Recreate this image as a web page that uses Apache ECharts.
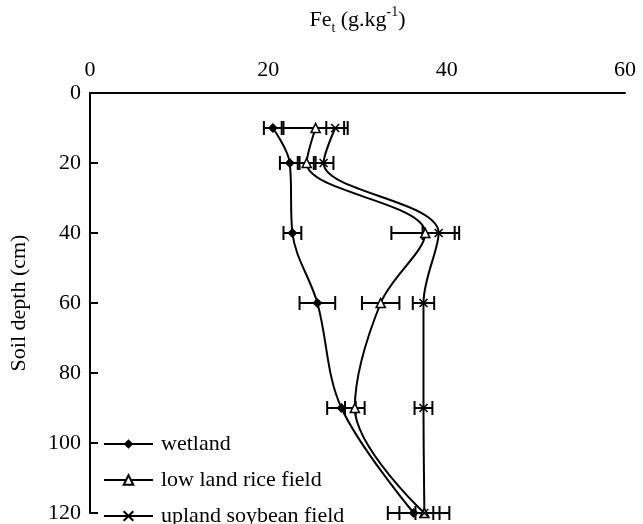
<!DOCTYPE html>
<html>
<head>
<meta charset="utf-8">
<script src="https://cdn.jsdelivr.net/npm/echarts@6/dist/echarts.min.js"></script>
<style>
html,body{margin:0;padding:0;background:#fff;}
#chart{width:643px;height:524px;}
</style>
</head>
<body>
<div id="chart"></div>
<script>
// ---- data ----
var depths = [10, 20, 40, 60, 90, 120];
var wetland = [20.5, 22.4, 22.7, 25.5, 28.2, 36.3];
var wetlandErr = [1.0, 1.1, 1.0, 2.0, 1.6, 2.9];
var lowland = [25.3, 24.3, 37.6, 32.6, 29.7, 37.5];
var lowlandErr = [3.6, 1.0, 3.8, 2.1, 1.1, 2.8];
var upland = [27.5, 26.2, 39.1, 37.4, 37.4, 37.5];
var uplandErr = [1.0, 1.1, 1.8, 1.2, 1.0, 1.0];
var seriesNames = ['wetland', 'low land rice field', 'upland soybean field'];
var xTicks = [0, 20, 40, 60];
var yTicks = [0, 20, 40, 60, 80, 100, 120];

var FONT = 'Liberation Serif';
var chart = echarts.init(document.getElementById('chart'), null, {renderer: 'canvas'});

function pts(vals) { return vals.map(function (v, i) { return [v, depths[i]]; }); }
function errData(vals, errs) { return vals.map(function (v, i) { return [v, errs[i], depths[i]]; }); }

function errRender(params, api) {
  var x = api.value(0), e = api.value(1), y = api.value(2);
  var p1 = api.coord([x - e, y]);
  var p2 = api.coord([x + e, y]);
  var h = 7;
  var st = {stroke: '#000', lineWidth: 2};
  return {
    type: 'group',
    children: [
      {type: 'line', shape: {x1: p1[0], y1: p1[1], x2: p2[0], y2: p2[1]}, style: st},
      {type: 'line', shape: {x1: p1[0], y1: p1[1] - h, x2: p1[0], y2: p1[1] + h}, style: st},
      {type: 'line', shape: {x1: p2[0], y1: p2[1] - h, x2: p2[0], y2: p2[1] + h}, style: st}
    ]
  };
}

var lineStyle = {color: '#000', width: 2};
var symbols = ['diamond', 'triangle', 'path://M0,0L10,10M10,0L0,10'];
var symbolSizes = [10, 9, 8];
var fills = ['#000', '#fff', '#000'];
var valsArr = [wetland, lowland, upland];
var errsArr = [wetlandErr, lowlandErr, uplandErr];

var series = [];
for (var k = 0; k < 3; k++) {
  series.push({
    type: 'custom',
    name: seriesNames[k] + ' err',
    renderItem: errRender,
    data: errData(valsArr[k], errsArr[k]),
    encode: {x: 0, y: 2},
    z: 1,
    silent: true
  });
}
for (var j = 0; j < 3; j++) {
  series.push({
    type: 'line',
    name: seriesNames[j],
    data: pts(valsArr[j]),
    smooth: 0.35,
    symbol: symbols[j],
    symbolSize: symbolSizes[j],
    showAllSymbol: true,
    lineStyle: lineStyle,
    itemStyle: {color: fills[j], borderColor: '#000', borderWidth: j === 0 ? 0 : 1.6},
    z: 3,
    animation: false
  });
}

var legendTops = [433, 469, 505];
var legends = seriesNames.map(function (n, i) {
  return {
    data: [n],
    orient: 'horizontal',
    left: 103,
    top: legendTops[i],
    padding: 0,
    itemWidth: 49,
    itemHeight: 12,
    textStyle: {fontFamily: FONT, fontSize: 22, color: '#000', padding: [0, 0, 0, 3]}
  };
});

var option = {
  animation: false,
  backgroundColor: '#fff',
  grid: {left: 84, right: 18, top: 83, bottom: 7, containLabel: false},
  legend: legends,
  xAxis: {
    type: 'value',
    position: 'top',
    min: 0, max: 60, interval: 20,
    name: '{a|Fe}{sub|t}{a| (g.kg}{sup|-1}{a|)}',
    nameLocation: 'middle',
    nameGap: 58,
    nameTextStyle: {
      rich: {
        a: {fontFamily: FONT, fontSize: 22, color: '#000', lineHeight: 30},
        sub: {fontFamily: FONT, fontSize: 14, color: '#000', lineHeight: 30, verticalAlign: 'bottom'},
        sup: {fontFamily: FONT, fontSize: 14, color: '#000', lineHeight: 30, verticalAlign: 'top'}
      }
    },
    axisLine: {show: true, lineStyle: {color: '#000', width: 2}},
    axisTick: {show: false},
    axisLabel: {fontFamily: FONT, fontSize: 22, color: '#000', margin: 12,
      customValues: xTicks},
    splitLine: {show: false}
  },
  yAxis: {
    type: 'value',
    inverse: true,
    min: 0, max: 120, interval: 20,
    name: 'Soil depth (cm)',
    nameLocation: 'middle',
    nameGap: 60,
    nameRotate: 90,
    nameTextStyle: {fontFamily: FONT, fontSize: 22, color: '#000'},
    axisLine: {show: true, lineStyle: {color: '#000', width: 2}},
    axisTick: {show: true, inside: true, length: 8, lineStyle: {color: '#000', width: 2}},
    axisLabel: {fontFamily: FONT, fontSize: 22, color: '#000', margin: 9,
      customValues: yTicks},
    splitLine: {show: false}
  },
  series: series
};
chart.setOption(option);
</script>
</body>
</html>
